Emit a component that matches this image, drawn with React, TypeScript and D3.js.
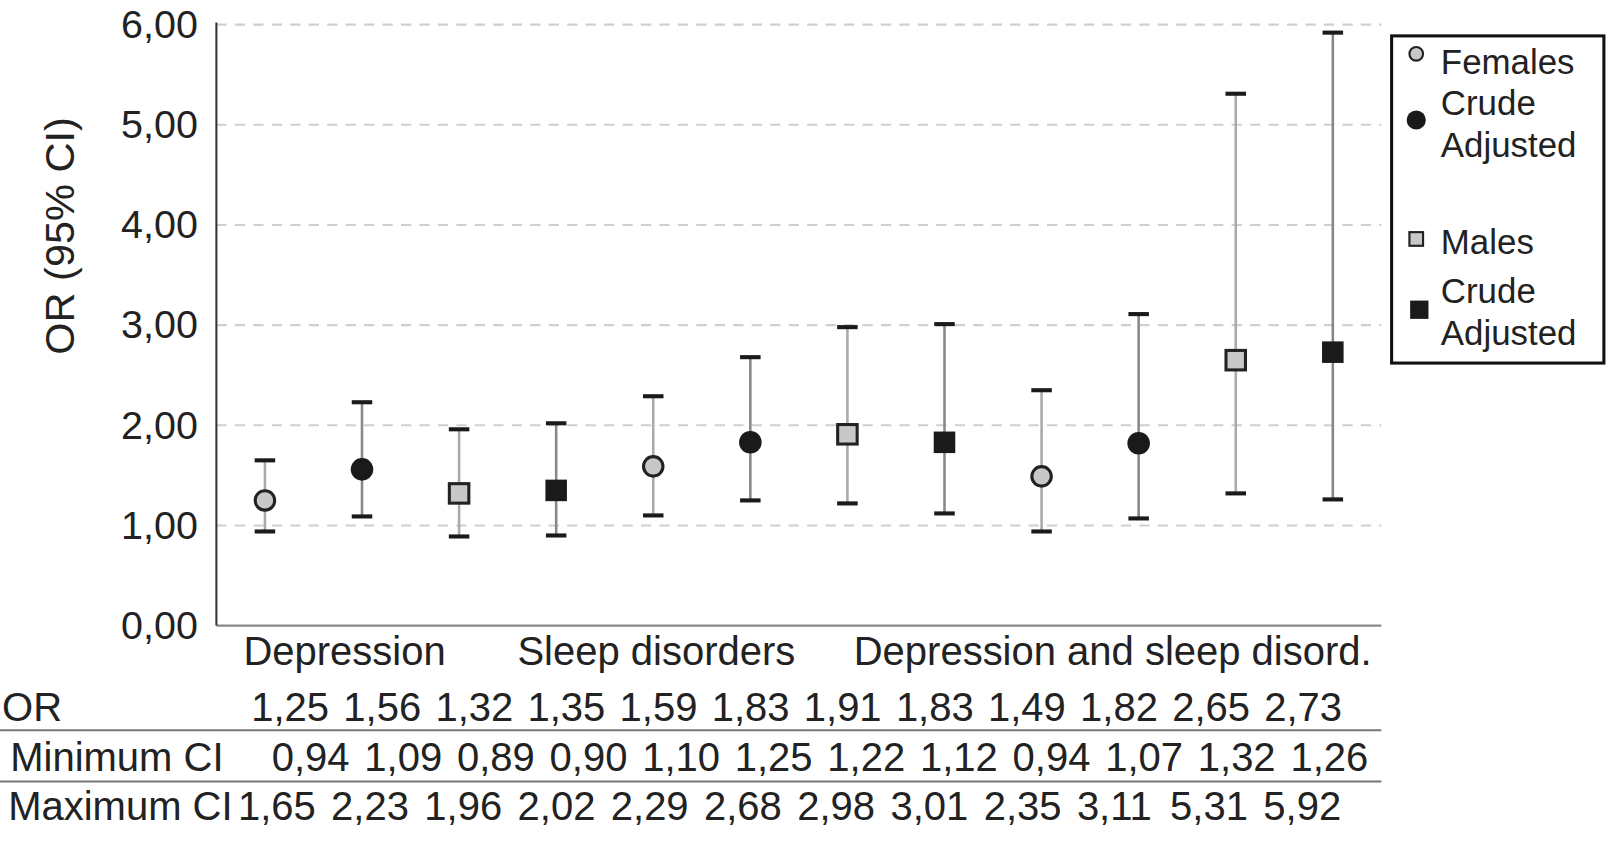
import React from "react";
import * as d3 from "d3";

const groups = ["Depression", "Sleep disorders", "Depression and sleep disord."];
const groupLabelX = [336, 640, 1085];
const seriesKinds = ["Females crude", "Females adjusted", "Males crude", "Males adjusted"];
const orValues = [1.25, 1.56, 1.32, 1.35, 1.59, 1.83, 1.91, 1.83, 1.49, 1.82, 2.65, 2.73];
const minCI = [0.94, 1.09, 0.89, 0.9, 1.1, 1.25, 1.22, 1.12, 0.94, 1.07, 1.32, 1.26];
const maxCI = [1.65, 2.23, 1.96, 2.02, 2.29, 2.68, 2.98, 3.01, 2.35, 3.11, 5.31, 5.92];
const yTicks = [0, 1, 2, 3, 4, 5, 6];
const tableRows = ["OR", "Minimum CI", "Maximum CI"];

const fmt = (v: number) => v.toFixed(2).replace(".", ",");
const FONT = "'Liberation Sans', Arial, Helvetica, sans-serif";

export default function App() {
  const W = 1608, H = 841;
  const VW = 1568, VH = 820;
  const x0 = 211, x1 = 1347;
  const idx = orValues.map((_, i) => String(i));
  const x = d3.scaleBand<string>().domain(idx).range([x0, x1]);
  const y = d3.scaleLinear().domain([0, 6]).range([610, 24]);
  const kindOf = (i: number) => i % 4;

  const tableData = [orValues, minCI, maxCI];
  const tableStart = [245, 265, 232];
  const tableStep = [89.8, 90.3, 90.9];
  const tableBase = [703, 752, 800];
  const tableLabelX = [2, 10, 8];
  const FS = 39;

  const marker = (k: number, cx: number, cy: number, scale = 1) => {
    if (k === 0)
      return <circle cx={cx} cy={cy} r={9.5 * scale} fill="#c8c8c8" stroke="#222" strokeWidth={3 * scale} />;
    if (k === 1) return <circle cx={cx} cy={cy} r={11 * scale} fill="#1a1a1a" />;
    if (k === 2) {
      const s = 19 * scale;
      return <rect x={cx - s / 2} y={cy - s / 2} width={s} height={s} fill="#c8c8c8" stroke="#222" strokeWidth={3 * scale} />;
    }
    const s = 21 * scale;
    return <rect x={cx - s / 2} y={cy - s / 2} width={s} height={s} fill="#1a1a1a" />;
  };

  return (
    <svg
      width={W}
      height={H}
      viewBox={`0 0 ${VW} ${VH}`}
      preserveAspectRatio="none"
      style={{ display: "block", position: "absolute", left: 0, top: 0, background: "#fff" }}
    >
      <rect width={VW} height={VH} fill="#fff" />
      {/* gridlines */}
      {yTicks.filter((t) => t > 0).map((t) => (
        <line key={t} x1={x0} x2={x1} y1={y(t)} y2={y(t)} stroke="#cfcfcf" strokeWidth={2} strokeDasharray="10 8" />
      ))}
      {/* axes */}
      <line x1={x0} x2={x1} y1={y(0)} y2={y(0)} stroke="#888" strokeWidth={2} />
      <line x1={x0} x2={x0} y1={22} y2={y(0)} stroke="#333" strokeWidth={2} />
      {yTicks.map((t) => (
        <text key={t} x={193} y={y(t) + 13} textAnchor="end" fontFamily={FONT} fontSize={38.5} fill="#222">
          {fmt(t)}
        </text>
      ))}
      <text transform="translate(72,230) rotate(-90)" textAnchor="middle" fontFamily={FONT} fontSize={40.5} fill="#222">
        OR (95% CI)
      </text>
      {/* error bars */}
      {orValues.map((v, i) => {
        const cx = (x(String(i)) as number) + x.bandwidth() / 2;
        const k = kindOf(i);
        const lineColor = k === 1 || k === 3 ? "#888" : "#aaa";
        return (
          <g key={i}>
            <line x1={cx} x2={cx} y1={y(minCI[i])} y2={y(maxCI[i])} stroke={lineColor} strokeWidth={2.5} />
            <line x1={cx - 10} x2={cx + 10} y1={y(minCI[i])} y2={y(minCI[i])} stroke="#1a1a1a" strokeWidth={4} />
            <line x1={cx - 10} x2={cx + 10} y1={y(maxCI[i])} y2={y(maxCI[i])} stroke="#1a1a1a" strokeWidth={4} />
            {marker(k, cx, y(v))}
          </g>
        );
      })}
      {/* group labels */}
      {groups.map((g, i) => (
        <text key={g} x={groupLabelX[i]} y={648} textAnchor="middle" fontFamily={FONT} fontSize={FS} fill="#222">
          {g}
        </text>
      ))}
      {/* table */}
      {tableRows.map((r, ri) => (
        <g key={r}>
          <text x={tableLabelX[ri]} y={tableBase[ri]} fontFamily={FONT} fontSize={FS} fill="#222">
            {r}
          </text>
          {tableData[ri].map((v, i) => (
            <text key={i} x={tableStart[ri] + i * tableStep[ri]} y={tableBase[ri]} fontFamily={FONT} fontSize={FS} fill="#222">
              {fmt(v)}
            </text>
          ))}
        </g>
      ))}
      <line x1={0} x2={x1} y1={712} y2={712} stroke="#777" strokeWidth={2} />
      <line x1={0} x2={x1} y1={762} y2={762} stroke="#777" strokeWidth={2} />
      {/* legend */}
      <rect x={1357} y={35} width={207} height={319} fill="#fff" stroke="#111" strokeWidth={3} />
      {marker(0, 1381, 52.5, 0.7)}
      {marker(1, 1381, 117, 0.85)}
      {marker(2, 1381, 233, 0.7)}
      {marker(3, 1384, 302, 0.85)}
      {[
        ["Females", 72],
        ["Crude", 112],
        ["Adjusted", 153],
        ["Males", 248],
        ["Crude", 295],
        ["Adjusted", 336],
      ].map(([t, yy], i) => (
        <text key={i} x={1405} y={yy as number} fontFamily={FONT} fontSize={34} fill="#222">
          {t}
        </text>
      ))}
    </svg>
  );
}
